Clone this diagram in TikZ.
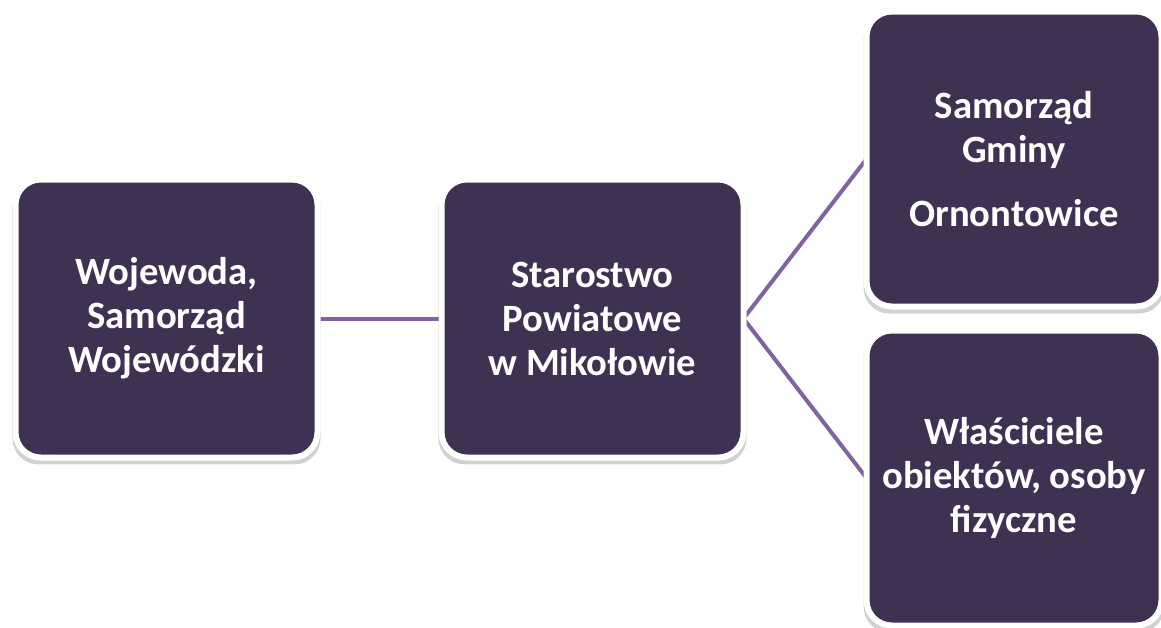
\documentclass[tikz,border=0pt]{standalone}
\usepackage{fontspec}
\setmainfont{Carlito}
\usetikzlibrary{positioning,shadows,backgrounds}
\definecolor{boxfill}{HTML}{3F3151}
\definecolor{linkline}{HTML}{8064A2}

\begin{document}
\begin{tikzpicture}[x=0.75pt,y=-0.75pt,
box/.style={draw=white,line width=4.5pt,fill=boxfill,rounded corners=19pt,
    minimum width=226.5pt,minimum height=208.5pt,outer sep=0pt,inner sep=0pt,
    align=center,text=white,font=\bfseries\fontsize{29}{33}\selectfont,
    drop shadow={shadow xshift=0pt,shadow yshift=-3pt,shadow scale=1.02,
    opacity=.18,fill=black}},
sqbox/.style={box,minimum width=221.25pt,minimum height=221.25pt},
link/.style={draw=linkline,line width=3pt}]
\useasboundingbox (0,0) rectangle (1161,628);
\node (woj) [box] at (166.5,318.5) {Wojewoda,\\ Samorząd\\ Wojewódzki};

\node (star) [box, right=93pt of woj] {Starostwo\\ Powiatowe\\ w Mikołowie};

\node (gmina) [sqbox,
    above right=9pt and 92.25pt of star.east]
    {Samorząd\\ Gminy\\[15pt] Ornontowice};

\node (wlasc) [sqbox,
    below right=9pt and 92.25pt of star.east]
    {Właściciele\\ obiektów, osoby\\ fizyczne};

\begin{scope}[on background layer]
\draw [link] (woj) -- (star);
\draw [link] (gmina.west) -- (star.east) -- (wlasc.west);
\end{scope}
\end{tikzpicture}
\end{document}
